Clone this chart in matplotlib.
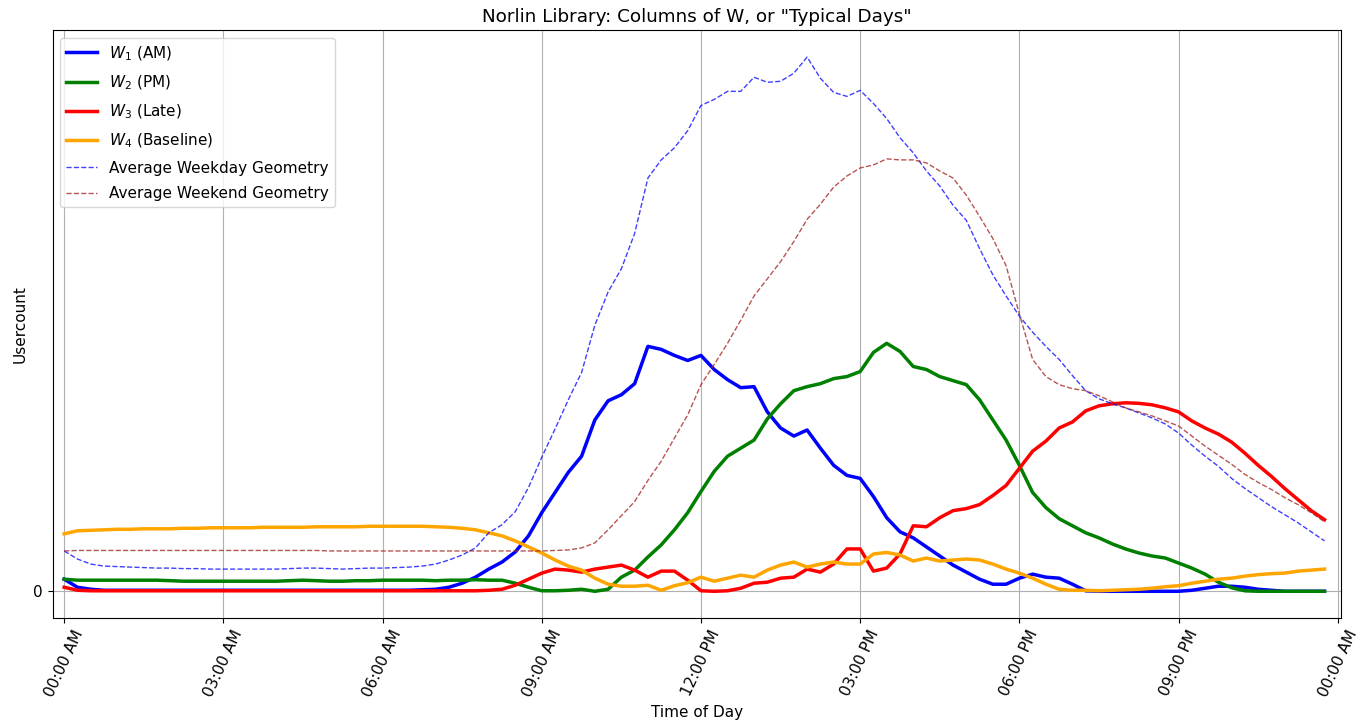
import numpy as np
import matplotlib
matplotlib.use("Agg")
import matplotlib.pyplot as plt

plt.rcParams["font.size"] = 11

# time of day in hours, 15 minute bins
hours = np.arange(0, 24, 0.25)

tick_hours = [0, 3, 6, 9, 12, 15, 18, 21, 24]
tick_labels = ["00:00 AM", "03:00 AM", "06:00 AM", "09:00 AM", "12:00 PM",
               "03:00 PM", "06:00 PM", "09:00 PM", "00:00 AM"]

# columns of W (typical days)
w1_am = [1.2, 0.4, 0.2, 0.1, 0.1, 0.1, 0.1, 0.1,
         0.1, 0.1, 0.1, 0.1, 0.1, 0.1, 0.1, 0.1,
         0.1, 0.1, 0.1, 0.1, 0.1, 0.1, 0.1, 0.1,
         0.1, 0.1, 0.1, 0.15, 0.2, 0.4, 0.8, 1.4,
         2.2, 2.9, 3.9, 5.5, 7.8, 9.8, 11.8, 13.4,
         17.0, 18.9, 19.5, 20.6, 24.3, 24.0, 23.4, 22.9,
         23.4, 22.0, 21.0, 20.2, 20.3, 17.8, 16.2, 15.4,
         16.0, 14.2, 12.5, 11.5, 11.2, 9.4, 7.3, 5.9,
         5.3, 4.4, 3.5, 2.6, 1.9, 1.2, 0.7, 0.7,
         1.3, 1.7, 1.4, 1.3, 0.7, 0.05, 0.0, 0.0,
         0.0, 0.0, 0.0, 0.0, 0.0, 0.1, 0.3, 0.5,
         0.5, 0.4, 0.2, 0.1, 0.0, 0.0, 0.0, 0.0]

w2_pm = [1.2, 1.1, 1.1, 1.1, 1.1, 1.1, 1.1, 1.1,
         1.05, 1.0, 1.0, 1.0, 1.0, 1.0, 1.0, 1.0,
         1.0, 1.05, 1.1, 1.05, 1.0, 1.0, 1.05, 1.05,
         1.1, 1.1, 1.1, 1.1, 1.05, 1.1, 1.1, 1.15,
         1.1, 1.1, 0.8, 0.4, 0.05, 0.05, 0.1, 0.2,
         0.0, 0.2, 1.4, 2.1, 3.4, 4.6, 6.1, 7.8,
         9.9, 11.9, 13.4, 14.2, 15.0, 17.1, 18.6, 19.9,
         20.3, 20.6, 21.1, 21.3, 21.8, 23.7, 24.6, 23.8,
         22.3, 22.0, 21.3, 20.9, 20.5, 19.0, 17.0, 15.0,
         12.5, 9.8, 8.3, 7.2, 6.5, 5.8, 5.3, 4.7,
         4.2, 3.8, 3.5, 3.3, 2.8, 2.3, 1.7, 0.9,
         0.35, 0.05, 0.0, 0.0, 0.0, 0.0, 0.0, 0.0]

w3_late = [0.4, 0.1, 0.05, 0.05, 0.05, 0.05, 0.05, 0.05,
           0.05, 0.05, 0.05, 0.05, 0.05, 0.05, 0.05, 0.05,
           0.05, 0.05, 0.05, 0.05, 0.05, 0.05, 0.05, 0.05,
           0.05, 0.05, 0.05, 0.05, 0.05, 0.05, 0.05, 0.05,
           0.1, 0.2, 0.6, 1.2, 1.8, 2.2, 2.1, 1.9,
           2.2, 2.4, 2.6, 2.1, 1.4, 2.0, 2.0, 1.1,
           0.05, 0.0, 0.05, 0.3, 0.8, 0.9, 1.3, 1.4,
           2.2, 1.9, 2.7, 4.2, 4.2, 2.0, 2.3, 3.7,
           6.5, 6.4, 7.3, 8.0, 8.2, 8.6, 9.5, 10.5,
           12.2, 13.9, 14.9, 16.2, 16.8, 17.9, 18.4, 18.6,
           18.7, 18.65, 18.5, 18.2, 17.8, 16.9, 16.2, 15.6,
           14.8, 13.7, 12.5, 11.4, 10.2, 9.1, 8.0, 7.1]

w4_base = [5.7, 6.0, 6.05, 6.1, 6.15, 6.15, 6.2, 6.2,
           6.2, 6.25, 6.25, 6.3, 6.3, 6.3, 6.3, 6.35,
           6.35, 6.35, 6.35, 6.4, 6.4, 6.4, 6.4, 6.45,
           6.45, 6.45, 6.45, 6.45, 6.4, 6.35, 6.25, 6.1,
           5.8, 5.5, 5.0, 4.4, 3.8, 3.1, 2.5, 2.1,
           1.3, 0.7, 0.5, 0.5, 0.6, 0.1, 0.55, 0.85,
           1.4, 1.0, 1.3, 1.6, 1.4, 2.1, 2.6, 2.9,
           2.4, 2.7, 2.9, 2.7, 2.7, 3.7, 3.85, 3.6,
           3.0, 3.3, 3.0, 3.1, 3.2, 3.1, 2.7, 2.2,
           1.8, 1.3, 0.7, 0.2, 0.1, 0.1, 0.05, 0.1,
           0.15, 0.2, 0.3, 0.45, 0.55, 0.8, 1.0, 1.2,
           1.3, 1.5, 1.65, 1.75, 1.8, 2.0, 2.1, 2.2]

# average day shapes
avg_weekday = [4.0, 3.2, 2.7, 2.5, 2.45, 2.4, 2.35, 2.3,
               2.3, 2.25, 2.25, 2.2, 2.2, 2.2, 2.2, 2.2,
               2.2, 2.25, 2.3, 2.3, 2.25, 2.2, 2.25, 2.3,
               2.3, 2.35, 2.4, 2.5, 2.7, 3.1, 3.6, 4.3,
               5.8, 6.6, 7.9, 10.3, 13.3, 16.1, 19.0, 21.7,
               26.4, 29.7, 32.0, 35.5, 41.0, 42.8, 44.0, 45.7,
               48.2, 48.8, 49.6, 49.6, 51.0, 50.5, 50.6, 51.4,
               53.0, 50.9, 49.5, 49.1, 49.7, 48.4, 46.9, 45.0,
               43.5, 41.7, 40.2, 38.3, 36.8, 34.0, 31.4, 29.3,
               27.3, 25.7, 24.3, 23.0, 21.4, 19.9, 19.1, 18.6,
               18.2, 17.7, 17.2, 16.6, 15.7, 14.5, 13.4, 12.4,
               11.2, 10.2, 9.3, 8.4, 7.6, 6.8, 5.9, 5.0]

avg_weekend = [4.0, 4.05, 4.05, 4.05, 4.05, 4.05, 4.05, 4.05,
               4.05, 4.05, 4.05, 4.05, 4.05, 4.05, 4.05, 4.05,
               4.05, 4.05, 4.05, 4.05, 4.0, 4.0, 4.0, 4.0,
               4.0, 4.0, 4.0, 4.0, 4.0, 4.0, 4.0, 4.0,
               4.0, 4.0, 4.0, 4.0, 4.0, 4.05, 4.1, 4.3,
               4.8, 6.1, 7.5, 8.9, 11.0, 12.9, 15.2, 17.5,
               20.5, 22.5, 24.6, 26.9, 29.3, 31.0, 32.7, 34.7,
               36.9, 38.4, 40.1, 41.2, 42.0, 42.3, 42.9, 42.8,
               42.8, 42.5, 41.7, 41.0, 39.3, 37.2, 35.0, 32.3,
               27.5, 23.0, 21.3, 20.5, 20.1, 19.9, 19.4, 18.8,
               18.2, 17.8, 17.4, 16.9, 16.4, 15.4, 14.4, 13.5,
               12.6, 11.6, 10.8, 10.1, 9.3, 8.6, 7.8, 6.9]

fig = plt.figure(figsize=(13.64, 7.25), dpi=100)
ax = fig.add_axes([0.0385, 0.1476, 0.9446, 0.8105])

ax.plot(hours, w1_am, color="blue", lw=2.5, label="$W_1$ (AM)")
ax.plot(hours, w2_pm, color="green", lw=2.5, label="$W_2$ (PM)")
ax.plot(hours, w3_late, color="red", lw=2.5, label="$W_3$ (Late)")
ax.plot(hours, w4_base, color="orange", lw=2.5, label="$W_4$ (Baseline)")
ax.plot(hours, avg_weekday, color="blue", ls="--", lw=1, alpha=0.75,
        label="Average Weekday Geometry")
ax.plot(hours, avg_weekend, color="brown", ls="--", lw=1, alpha=0.8,
        label="Average Weekend Geometry")

ax.set_xlim(-0.22, 24.06)
ax.set_xticks(tick_hours)
ax.set_xticklabels(tick_labels, rotation=65)
ax.set_yticks([0])
ax.grid(True)

ax.set_title('Norlin Library: Columns of W, or "Typical Days"')
ax.set_xlabel("Time of Day")
ax.set_ylabel("Usercount")
ax.legend(loc="upper left", labelspacing=0.7)

fig.savefig("out.png", dpi=100)
